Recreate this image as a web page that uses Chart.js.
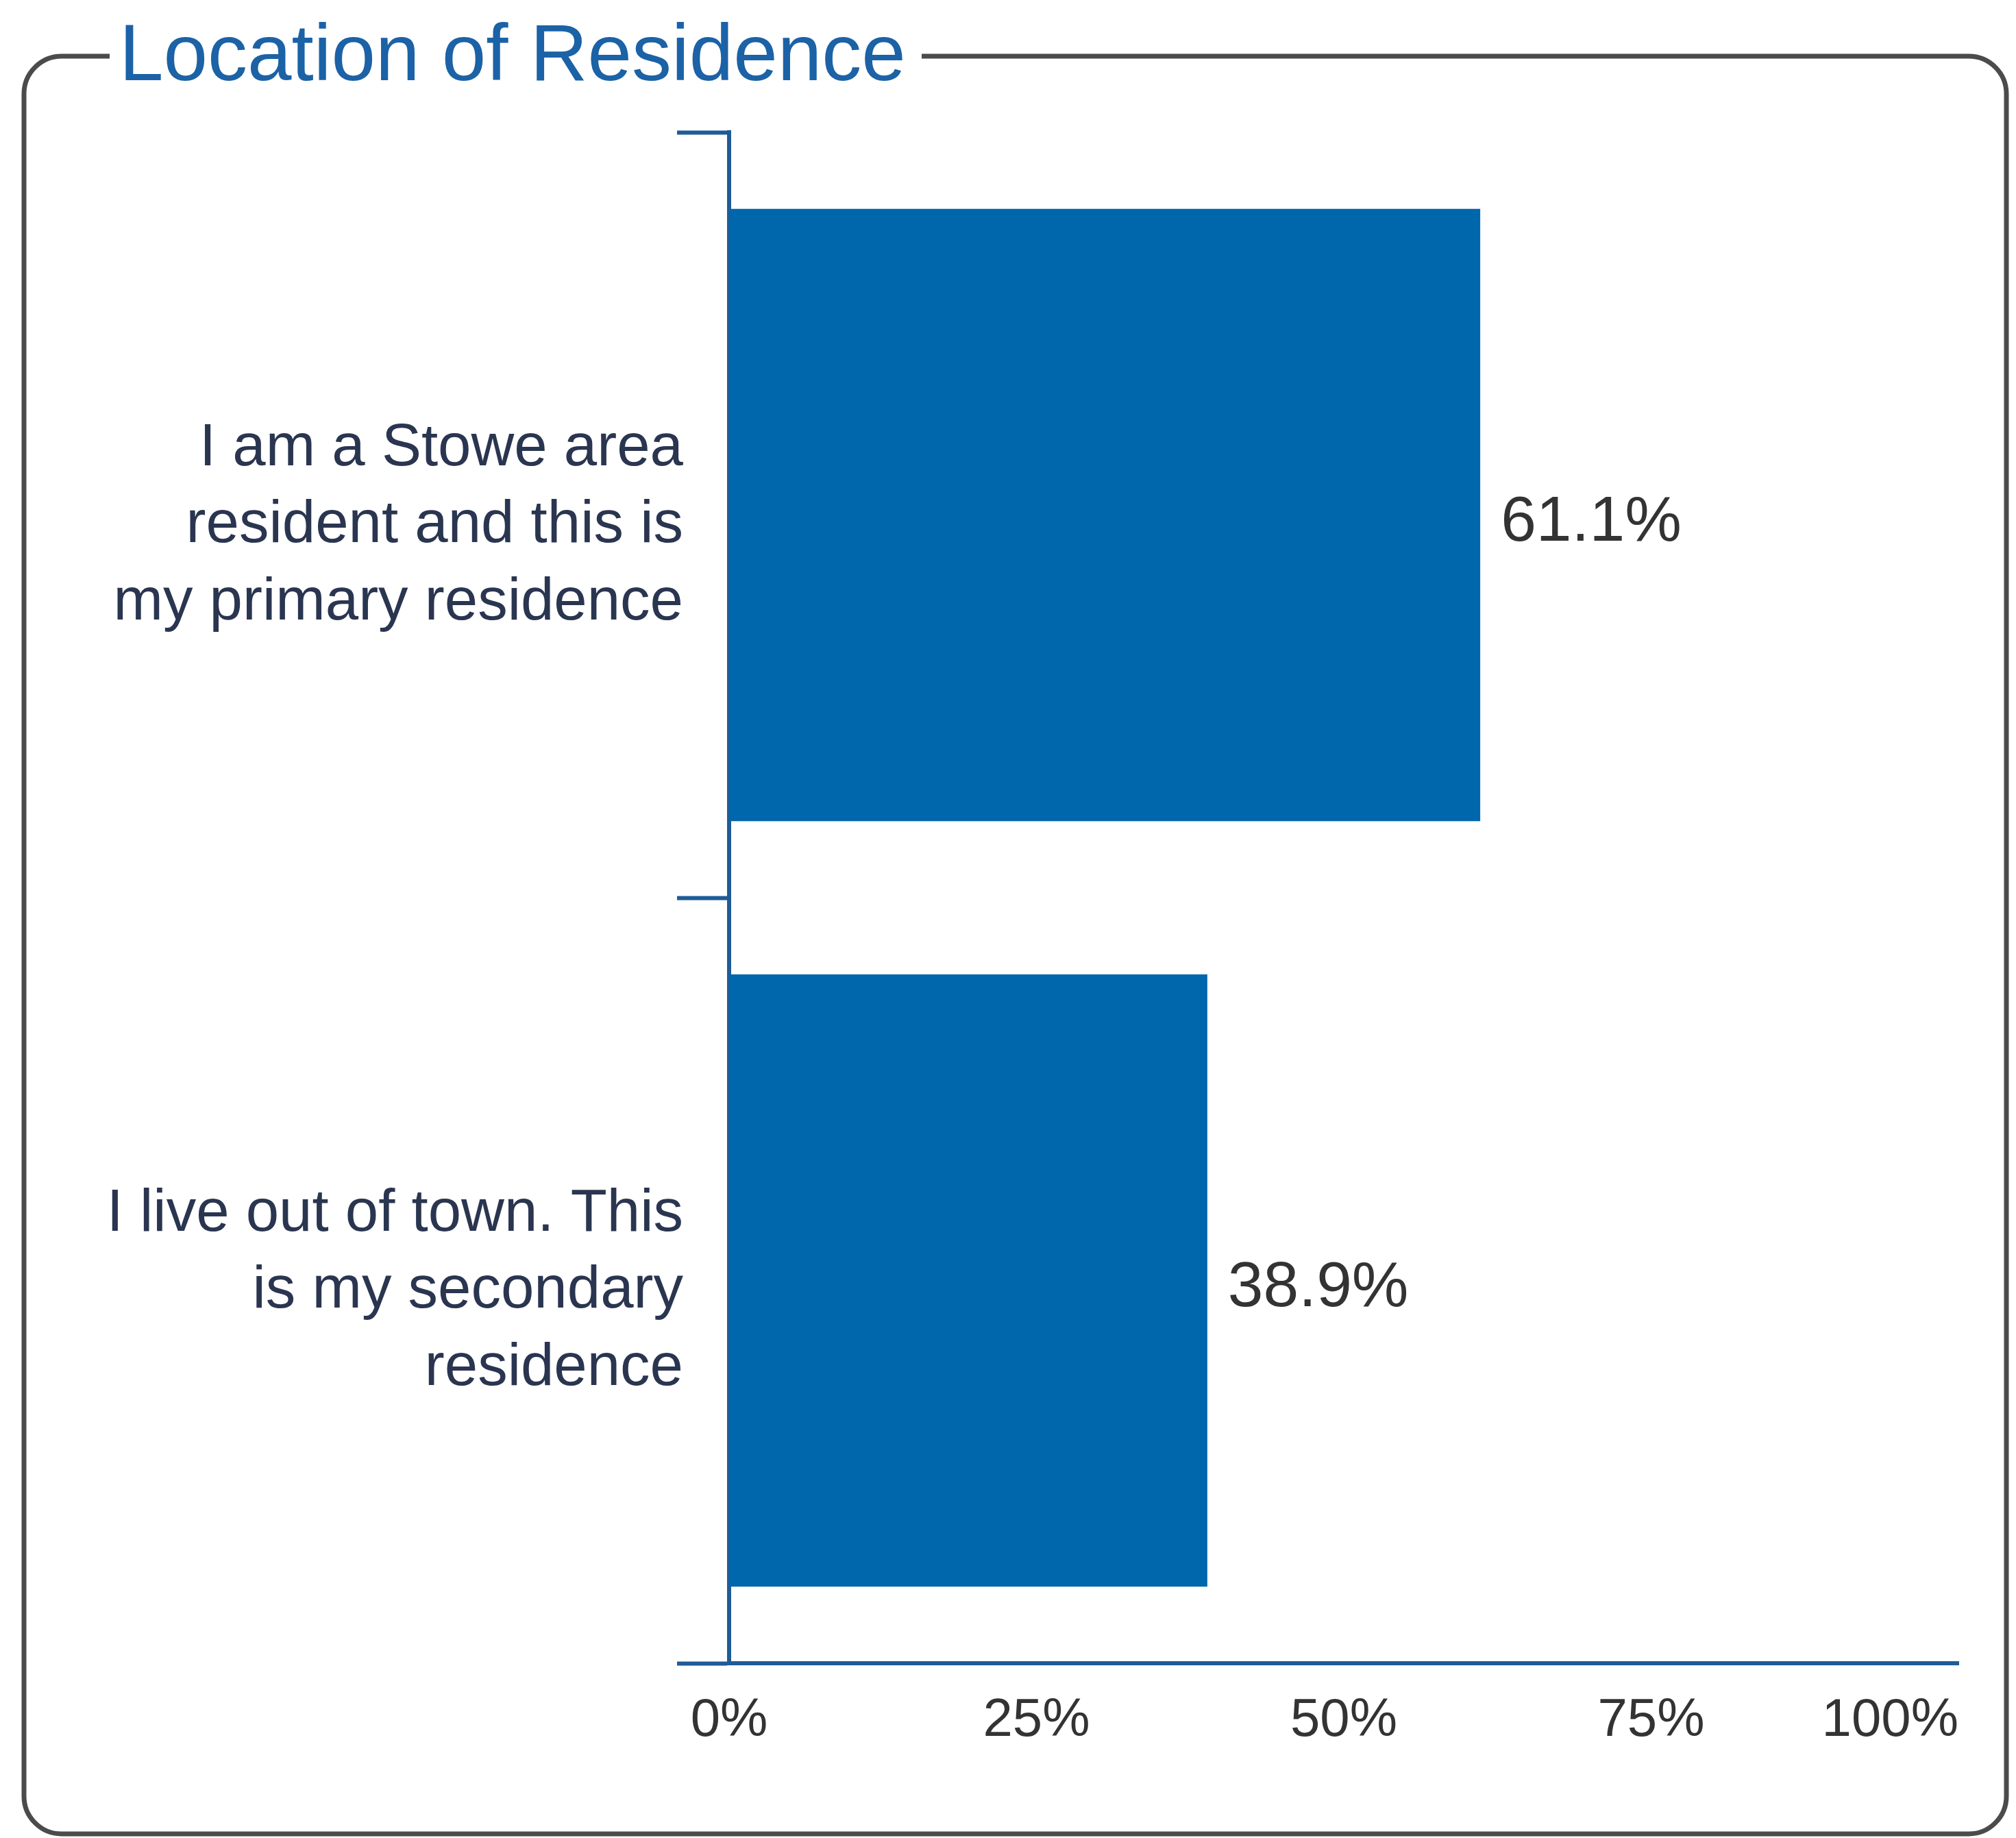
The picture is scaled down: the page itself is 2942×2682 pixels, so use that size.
<!DOCTYPE html>
<html>
<head>
<meta charset="utf-8">
<title>Location of Residence</title>
<script src="https://cdn.jsdelivr.net/npm/chart.js@4/dist/chart.umd.min.js"></script>
<style>
  body { margin: 0; background: #ffffff; }
  #grafico { display: block; }
</style>
</head>
<body>
<canvas id="grafico" width="2942" height="2682"></canvas>
<script>
// Dados do gráfico
const titulo = 'Location of Residence';
const categorias = [
  ['I am a Stowe area', 'resident and this is', 'my primary residence'],
  ['I live out of town. This', 'is my secondary', 'residence']
];
const valores = [61.1, 38.9];
const ticksX = [0, 25, 50, 75, 100];

const corAzul = '#0067ac';
const corEixo = '#1f5c97';
const corTexto = '#333333';
const fonte = '"Liberation Sans", Arial, Helvetica, sans-serif';

// Moldura arredondada com o título no topo
const molduraPlugin = {
  id: 'moldura',
  beforeDraw(chart) {
    const ctx = chart.ctx;
    const x0 = 35, y0 = 82, x1 = 2928, y1 = 2676, r = 55;
    ctx.save();
    ctx.fillStyle = '#ffffff';
    ctx.fillRect(0, 0, chart.width, chart.height);
    ctx.strokeStyle = '#4b4b4b';
    ctx.lineWidth = 7;
    ctx.beginPath();
    ctx.moveTo(160, y0);
    ctx.arcTo(x0, y0, x0, y1, r);
    ctx.arcTo(x0, y1, x1, y1, r);
    ctx.arcTo(x1, y1, x1, y0, r);
    ctx.arcTo(x1, y0, x0, y0, r);
    ctx.lineTo(1345, y0);
    ctx.stroke();

    ctx.fillStyle = '#1b62a6';
    ctx.font = '116px ' + fonte;
    ctx.textAlign = 'left';
    ctx.textBaseline = 'alphabetic';
    ctx.fillText(titulo, 174, 117);
    ctx.restore();
  }
};

// Rótulos de valor e rótulos do eixo X
const rotulosPlugin = {
  id: 'rotulos',
  afterDatasetsDraw(chart) {
    const ctx = chart.ctx;
    const meta = chart.getDatasetMeta(0);
    ctx.save();
    ctx.fillStyle = corTexto;
    ctx.font = '93px ' + fonte;
    ctx.textAlign = 'left';
    ctx.textBaseline = 'middle';
    meta.data.forEach((barra, i) => {
      ctx.fillText(valores[i].toFixed(1) + '%', barra.x + 30, barra.y + 12);
    });

    const escalaX = chart.scales.x;
    ctx.font = '78px ' + fonte;
    ctx.textBaseline = 'alphabetic';
    ticksX.forEach((v, i) => {
      const px = escalaX.getPixelForValue(v);
      ctx.textAlign = i === ticksX.length - 1 ? 'right' : 'center';
      ctx.fillText(v + '%', px, 2533);
    });
    ctx.restore();
  }
};

const ctx = document.getElementById('grafico').getContext('2d');

new Chart(ctx, {
  type: 'bar',
  data: {
    labels: categorias,
    datasets: [{
      data: valores,
      backgroundColor: corAzul,
      borderWidth: 0,
      barPercentage: 0.8,
      categoryPercentage: 1.0
    }]
  },
  options: {
    indexAxis: 'y',
    responsive: false,
    animation: false,
    devicePixelRatio: 1,
    layout: {
      padding: { left: 0, top: 193, right: 84, bottom: 0 }
    },
    plugins: {
      legend: { display: false },
      title: { display: false },
      tooltip: { enabled: false }
    },
    scales: {
      x: {
        min: 0,
        max: 100,
        ticks: { display: false, stepSize: 25 },
        grid: { display: false },
        border: { display: true, color: corEixo, width: 6 },
        afterFit(scale) {
          scale.height = 255;
          scale.paddingLeft = 0;
          scale.paddingRight = 0;
        }
      },
      y: {
        ticks: {
          color: '#2a3550',
          font: { family: fonte, size: 87, lineHeight: 1.29 },
          padding: -9,
          labelOffset: 16
        },
        grid: {
          offset: true,
          drawOnChartArea: false,
          drawTicks: true,
          tickLength: 76,
          tickWidth: 6,
          tickColor: corEixo
        },
        border: { display: true, color: corEixo, width: 6 },
        afterFit(scale) {
          scale.width = 1064;
          scale.paddingTop = 0;
          scale.paddingBottom = 0;
        }
      }
    }
  },
  plugins: [molduraPlugin, rotulosPlugin]
});
</script>
</body>
</html>
